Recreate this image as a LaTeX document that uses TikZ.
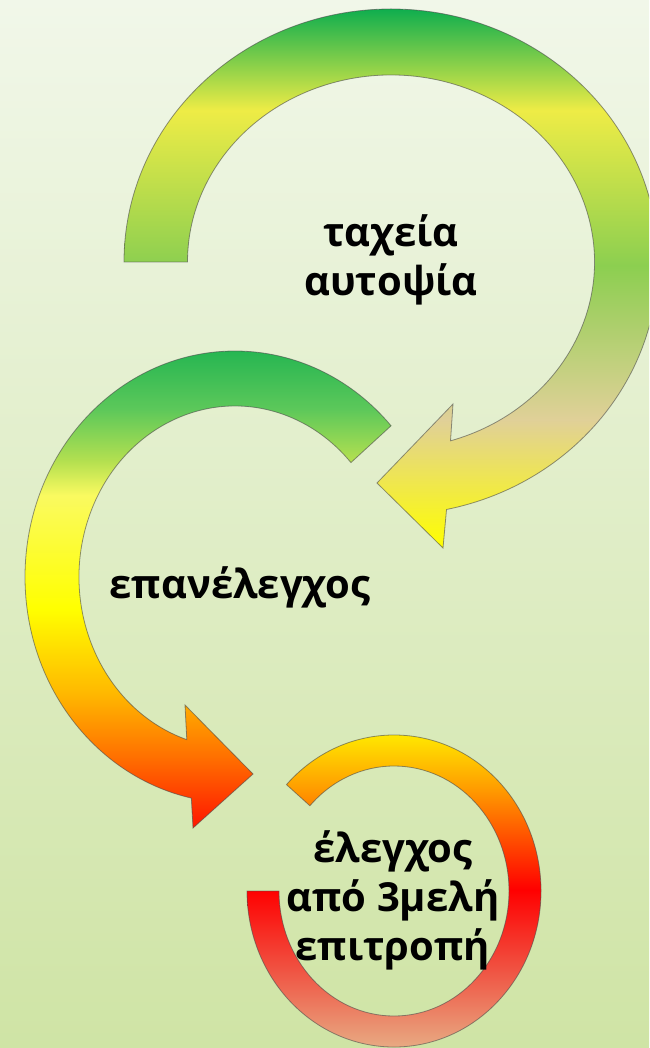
\documentclass[tikz,border=0pt]{standalone}
\usepackage{fontspec}
\setmainfont{Open Sans}
\usetikzlibrary{calc}

\definecolor{bgtop}{HTML}{F1F7E9}
\definecolor{bgbot}{HTML}{CFE4A5}
\definecolor{grndark}{HTML}{0FAE4E}
\definecolor{grnlight}{HTML}{8CCF50}
\definecolor{grnmid}{HTML}{5CC85A}
\definecolor{grnpale}{HTML}{B4E050}
\definecolor{ylwgrn}{HTML}{EEEC46}
\definecolor{ylwpale}{HTML}{FAFA60}
\definecolor{ylw}{HTML}{FFFF00}
\definecolor{tanish}{HTML}{E0D098}
\definecolor{tanlow}{HTML}{E6BC90}
\definecolor{orng}{HTML}{FFB800}
\definecolor{orngdeep}{HTML}{FF7000}
\definecolor{orngmid}{HTML}{FF9A00}
\definecolor{redish}{HTML}{FF1500}
\definecolor{redpure}{HTML}{FF0000}
\definecolor{salmon}{HTML}{F05040}

% path bounding box is mapped to 25bp..75bp
\pgfdeclareverticalshading{upshade}{100bp}{color(0bp)=(ylw); color(25bp)=(ylw); color(36.9bp)=(tanish); color(51.2bp)=(grnlight); color(65.6bp)=(ylwgrn); color(75bp)=(grndark); color(100bp)=(grndark)}
\pgfdeclareverticalshading{midshade}{100bp}{color(0bp)=(redish); color(25bp)=(redish); color(32.1bp)=(orngdeep); color(38.4bp)=(orng); color(46.8bp)=(ylw); color(58.1bp)=(ylwpale); color(61.5bp)=(grnpale); color(66.7bp)=(grnmid); color(75bp)=(grndark); color(100bp)=(grndark)}
\pgfdeclareverticalshading{lowshade}{100bp}{color(0bp)=(tanlow); color(25bp)=(tanlow); color(39bp)=(salmon); color(50.2bp)=(redpure); color(64.6bp)=(orngmid); color(75bp)=(ylw); color(100bp)=(ylw)}

\tikzset{
	arrowbody/.style={draw=black!70, draw opacity=0.6, line width=0.8pt, line join=miter},
	lbl/.style={font=\fontsize{40}{49}\selectfont\bfseries, align=center, text=black}
}

\begin{document}
\begin{tikzpicture}[x=1pt, y=1pt]
		%%%%% START %%%%%
		
		\useasboundingbox (0,0) rectangle (649,-1048);
		\clip (0,0) rectangle (649,-1048);
		\shade[top color=bgtop, bottom color=bgbot] (0,0) rectangle (649,-1048);
		
		\coordinate (c1) at (391,-262);
		\coordinate (c2) at (235,-577);
		\coordinate (c3) at (394,-891);
		
		% top arrow
		\shadedraw[arrowbody, shading=upshade] ($(c1)+(180:267pt and 253pt)$)
			arc[start angle=180, end angle=-78, x radius=267pt, y radius=253pt]
			-- (443,-548) -- (377,-483) -- (453,-404)
			-- ($(c1)+(-73:203.5pt and 187pt)$)
			arc[start angle=-73, end angle=180, x radius=203.5pt, y radius=187pt] -- cycle;
		
		% middle arrow
		\shadedraw[arrowbody, shading=midshade] ($(c2)+(42:210pt and 226pt)$)
			arc[start angle=42, end angle=258, x radius=210pt, y radius=226pt]
			-- (193,-828) -- (253,-774) -- (185,-705)
			-- ($(c2)+(252:156pt and 171pt)$)
			arc[start angle=252, end angle=42, x radius=156pt, y radius=171pt] -- cycle;
		
		% bottom ring
		\shadedraw[arrowbody, shading=lowshade] ($(c3)+(137:147pt and 156pt)$)
			arc[start angle=137, end angle=-180, x radius=147pt, y radius=156pt]
			-- ($(c3)+(180:115pt and 125pt)$)
			arc[start angle=-180, end angle=137, x radius=115pt, y radius=125pt] -- cycle;
		
		\node[lbl] (fast) at (391,-260) {ταχεία\\αυτοψία};
		\node[lbl] (recheck) at (240,-587) {επανέλεγχος};
		\node[lbl] (board) at (393,-900) {έλεγχος\\από 3μελή\\επιτροπή};
		
		%%%%% END %%%%%
	\end{tikzpicture}
\end{document}
